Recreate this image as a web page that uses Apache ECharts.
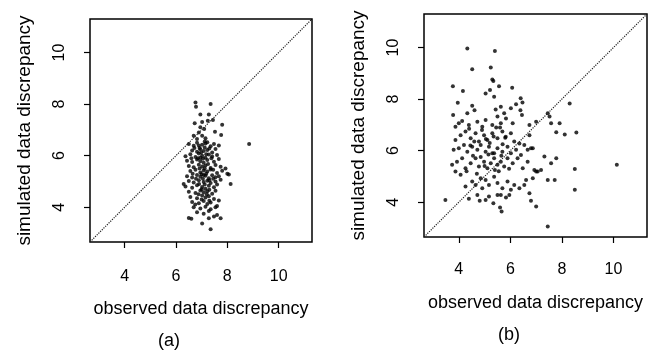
<!DOCTYPE html>
<html>
<head>
<meta charset="utf-8">
<script src="https://cdn.jsdelivr.net/npm/echarts@6/dist/echarts.min.js"></script>
<style>
  html, body { margin: 0; padding: 0; background: #fff; }
  #chart { width: 662px; height: 355px; }
</style>
</head>
<body>
<div id="chart"></div>
<script>
// axis limits and tick labels (same for both panels)
const axisMin = 2.65;
const axisMax = 11.3;
const tickValues = [4, 6, 8, 10];

// panel (a): observed vs simulated discrepancy
const obsA = [
  6.76, 7.35, 6.78, 6.95, 7.28, 6.73, 7.02, 7.24, 7.44, 7.8, 6.95, 7.1, 6.89, 6.69, 7.02, 7.52, 7.76, 6.82, 7.15, 8.85,
  6.5, 6.69, 6.82, 6.89, 7.02, 7.15, 7.22, 7.35, 7.48, 7.67,
  6.63, 6.82, 6.95, 7.08, 7.22, 7.41, 7.54,
  6.37, 6.56, 6.76, 6.89, 7.02, 7.15, 7.28, 7.41, 7.6,
  6.43, 6.63, 6.82, 6.95, 7.08, 7.22, 7.48, 7.67,
  6.5, 6.69, 6.89, 7.02, 7.15, 7.35, 7.54, 7.74, 7.93,
  6.56, 6.76, 6.95, 7.08, 7.22, 7.35, 7.6, 7.8, 8.0,
  6.43, 6.63, 6.82, 6.95, 7.15, 7.28, 7.41, 7.54, 7.67, 8.06,
  6.3, 6.5, 6.69, 6.89, 7.08, 7.22, 7.35, 7.54, 7.74, 8.13,
  6.37, 6.63, 6.82, 7.02, 7.15, 7.28, 7.48, 7.6,
  6.5, 6.76, 6.95, 7.08, 7.22, 7.41, 7.54,
  6.56, 6.82, 7.02, 7.15, 7.28, 7.48, 7.67,
  6.63, 6.89, 7.08, 7.22, 7.35, 7.6,
  6.69, 6.95, 7.15, 7.35, 7.54,
  6.82, 7.08, 7.28, 7.6,
  6.5, 6.6, 7.02, 7.35, 7.28, 7.48, 7.74,
  6.92, 7.12, 6.98, 7.18, 6.86, 7.05, 7.25, 6.92, 7.12, 7.0,
  7.18, 6.78, 7.05, 7.3, 6.9, 7.12, 7.0, 7.3, 6.88, 7.2,
  7.0, 6.75, 7.12, 6.72, 7.3, 7.38, 6.6, 7.45, 6.65, 7.45,
  7.3, 6.95, 7.08
];
const simA = [
  8.06, 8.0, 7.9, 7.6, 7.6, 7.26, 7.3, 7.35, 7.38, 7.2, 7.1, 7.03, 6.9, 6.77, 6.77, 6.93, 6.8, 6.65, 6.67, 6.45,
  6.45, 6.38, 6.5, 6.39, 6.42, 6.47, 6.52, 6.36, 6.45, 6.39,
  6.2, 6.15, 6.25, 6.18, 6.22, 6.12, 6.26,
  5.98, 6.05, 5.95, 6.08, 6.0, 5.92, 6.04, 5.97, 6.02,
  5.8, 5.75, 5.85, 5.78, 5.72, 5.83, 5.76, 5.87,
  5.6, 5.55, 5.65, 5.58, 5.62, 5.52, 5.64, 5.57, 5.5,
  5.4, 5.45, 5.35, 5.42, 5.38, 5.46, 5.33, 5.41, 5.3,
  5.2, 5.15, 5.25, 5.18, 5.22, 5.12, 5.24, 5.16, 5.2, 5.27,
  4.9, 5.02, 4.96, 5.05, 4.98, 5.03, 4.94, 5.0, 5.06, 4.9,
  4.8, 4.75, 4.85, 4.78, 4.72, 4.83, 4.77, 4.88,
  4.6, 4.55, 4.65, 4.58, 4.62, 4.52, 4.64,
  4.4, 4.35, 4.45, 4.38, 4.42, 4.32, 4.26,
  4.2, 4.15, 4.24, 4.12, 4.18, 4.05,
  4.0, 3.95, 4.02, 3.92, 4.0,
  3.8, 3.75, 3.85, 3.7,
  3.58, 3.55, 3.37, 3.14, 3.57, 3.64, 3.57,
  6.3, 6.32, 6.12, 6.05, 5.9, 5.88, 5.68, 5.5, 5.5, 5.28,
  5.3, 5.1, 5.1, 5.05, 4.9, 4.88, 4.7, 4.68, 4.5, 4.5,
  4.3, 4.1, 6.55, 6.3, 6.28, 5.9, 5.9, 5.45, 5.3, 5.1,
  4.25, 5.92, 5.25
];

// panel (b)
const obsB = [
  4.33, 5.4, 4.52, 5.24, 5.34, 5.3, 3.77, 4.16, 5.04, 5.21, 5.56, 6.07, 5.37, 3.96, 4.52, 6.4, 6.47,
  3.78, 4.33, 4.61, 5.43, 5.63, 5.76, 6.02, 6.22, 6.39, 6.45,
  8.3, 7.45, 7.52, 7.58, 7.91, 7.78, 8.11, 8.56,
  3.87, 4.0, 4.13, 4.39, 4.72, 4.91, 5.04, 5.3, 5.5, 5.63, 5.83, 6.09, 6.74, 7.0,
  3.87, 4.07, 4.26, 4.46, 4.65, 4.78, 4.98, 5.11, 5.3, 5.5, 5.69, 5.82, 6.02, 6.15, 6.35, 6.54, 6.74, 6.8,
  3.8, 4.0, 4.2, 4.33, 4.52, 4.72, 4.85, 5.04, 5.17, 5.37, 5.5, 5.69, 5.89, 6.02, 6.22, 6.41, 6.67, 6.87,
  3.74, 3.93, 4.13, 4.26, 4.46, 4.65, 4.78, 4.98, 5.11, 5.24, 5.37, 5.5, 5.63, 5.76, 5.89,
  6.09, 6.28, 6.48, 6.67, 6.93, 7.06, 7.19, 7.32, 7.45, 7.58, 7.78, 8.5, 10.13, 8.5, 7.72,
  3.87, 4.07, 4.26, 4.52, 4.65, 4.85, 5.04, 5.17, 5.37, 5.5, 5.69, 5.89, 6.02, 6.15, 6.35,
  6.54, 6.61, 6.74, 6.87, 7.0, 4.91, 4.72, 5.17,
  3.48, 4.39, 4.81, 5.04, 5.34, 5.5, 5.63, 5.83, 5.96, 5.66, 5.6, 6.8, 7.0, 7.45,
  4.4, 4.6, 4.9, 5.2, 5.45, 5.7, 4.55, 4.85, 5.15, 5.4, 5.65,
  5.95, 4.3, 4.7, 5.0, 5.3, 5.55, 5.8, 4.45, 5.05, 5.35, 5.6
];
const simB = [
  9.96, 9.86, 9.16, 9.22, 8.7, 8.76, 8.5, 8.31, 8.22, 8.35, 8.5, 8.44, 8.09, 7.86, 7.74, 8.03, 7.87,
  7.38, 7.45, 7.57, 7.6, 7.7, 7.45, 7.64, 7.8, 7.57, 7.38,
  7.83, 7.45, 7.32, 7.06, 7.06, 6.71, 6.63, 6.7,
  6.93, 7.06, 7.15, 6.99, 7.12, 6.93, 7.19, 6.99, 7.32, 7.06, 7.25, 7.06, 6.99, 7.12,
  6.41, 6.6, 6.74, 6.48, 6.67, 6.35, 6.6, 6.41, 6.67, 6.48, 6.74, 6.54, 6.67, 6.35, 6.28, 6.22, 6.6, 6.09,
  6.03, 6.09, 6.22, 5.96, 6.15, 6.03, 6.22, 5.96, 6.15, 5.9, 6.09, 5.96, 6.15, 5.9, 6.03, 5.83, 6.03, 6.09,
  5.45, 5.57, 5.7, 5.32, 5.51, 5.7, 5.38, 5.57, 5.32, 5.51, 5.7, 5.45, 5.57, 5.38, 5.7,
  5.51, 5.7, 5.32, 5.57, 5.25, 5.19, 5.25, 5.77, 4.86, 5.51, 5.7, 5.29, 5.45, 4.48, 4.86,
  5.19, 5.06, 4.61, 4.8, 4.67, 4.93, 4.86, 4.67, 4.99, 4.74, 4.54, 4.8, 4.48, 4.67, 4.54,
  4.67, 4.86, 4.35, 4.93, 5.19, 4.54, 4.28, 4.22,
  4.09, 4.13, 4.06, 4.09, 3.96, 4.28, 4.28, 4.18, 4.28, 3.64, 3.79, 4.06, 3.83, 3.06,
  6.85, 6.35, 6.8, 6.3, 6.9, 6.25, 5.8, 5.75, 5.85, 5.25, 5.8,
  5.3, 5.2, 5.1, 5.4, 5.9, 5.2, 6.5, 6.2, 6.45, 6.55, 6.9
];

const font = 'Liberation Sans, Arial, Helvetica, sans-serif';
const chart = echarts.init(document.getElementById('chart'));

function pairs(xs, ys) {
  return xs.map((x, i) => [x, ys[i]]);
}

function makeX(idx, labelMargin, nameGap) {
  return {
    type: 'value', gridIndex: idx, min: axisMin, max: axisMax,
    axisLine: { show: false },
    splitLine: { show: false },
    axisTick: { show: true, length: 6, customValues: tickValues, lineStyle: { color: '#000', width: 1.2 } },
    axisLabel: { customValues: tickValues, margin: labelMargin, fontSize: 16, color: '#000', fontFamily: font },
    name: 'observed data discrepancy', nameLocation: 'middle', nameGap: nameGap,
    nameTextStyle: { fontSize: 18, color: '#000', fontFamily: font }
  };
}

function makeY(idx) {
  return {
    type: 'value', gridIndex: idx, min: axisMin, max: axisMax,
    axisLine: { show: false },
    splitLine: { show: false },
    axisTick: { show: true, length: 6, customValues: tickValues, lineStyle: { color: '#000', width: 1.2 } },
    axisLabel: { customValues: tickValues, rotate: 90, margin: 22, fontSize: 16, color: '#000', fontFamily: font },
    name: 'simulated data discrepancy', nameLocation: 'middle', nameGap: 56,
    nameTextStyle: { fontSize: 19, color: '#000', fontFamily: font }
  };
}

function diagonal(idx) {
  return {
    type: 'line', xAxisIndex: idx, yAxisIndex: idx,
    data: [[axisMin, axisMin], [axisMax, axisMax]],
    showSymbol: false, silent: true,
    lineStyle: { type: 'dotted', width: 1.2, color: '#222' }
  };
}

function dots(idx, data) {
  return {
    type: 'scatter', xAxisIndex: idx, yAxisIndex: idx,
    data: data, symbolSize: 4,
    itemStyle: { color: '#000' }
  };
}

chart.setOption({
  animation: false,
  backgroundColor: '#fff',
  grid: [
    { left: 90, top: 19, width: 222, height: 223, show: true, borderColor: '#000', borderWidth: 1.5, containLabel: false },
    { left: 424, top: 14, width: 223, height: 223, show: true, borderColor: '#000', borderWidth: 1.5, containLabel: false }
  ],
  xAxis: [makeX(0, 27, 58), makeX(1, 25, 57)],
  yAxis: [makeY(0), makeY(1)],
  series: [
    diagonal(0), dots(0, pairs(obsA, simA)),
    diagonal(1), dots(1, pairs(obsB, simB))
  ],
  graphic: [
    { type: 'text', style: { text: '(a)', x: 169, y: 341, align: 'center', verticalAlign: 'middle', font: '18px ' + font, fill: '#000' } },
    { type: 'text', style: { text: '(b)', x: 509, y: 335, align: 'center', verticalAlign: 'middle', font: '18px ' + font, fill: '#000' } }
  ]
});
</script>
</body>
</html>
